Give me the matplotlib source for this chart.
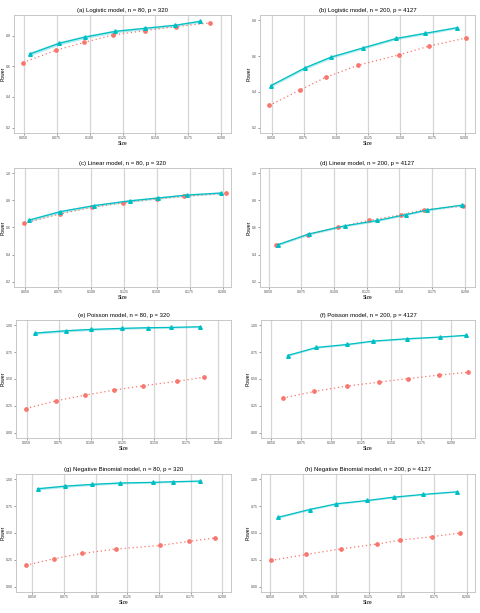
import numpy as np
import matplotlib
matplotlib.use('Agg')
import matplotlib.pyplot as plt

plt.rcParams['font.family'] = ['Liberation Sans', 'DejaVu Sans']

## Datos (Size vs Power)
# (a) Logistic n=80
a_x_teal = [0.0543, 0.0767, 0.0963, 0.1194, 0.1420, 0.1652, 0.1843]
a_y_teal = [0.680, 0.750, 0.791, 0.828, 0.848, 0.868, 0.894]
a_x_red = [0.0495, 0.0747, 0.0958, 0.1174, 0.1420, 0.1657, 0.1917]
a_y_red = [0.625, 0.706, 0.756, 0.804, 0.833, 0.859, 0.883]
a_band = [0.012, 0.011, 0.010, 0.010, 0.009, 0.009, 0.008]

# (b) Logistic n=200
b_x_teal = [0.0495, 0.0759, 0.0960, 0.1211, 0.1470, 0.1689, 0.1940]
b_y_teal = [0.435, 0.534, 0.594, 0.646, 0.699, 0.727, 0.759]
b_x_red = [0.0482, 0.0720, 0.0919, 0.1172, 0.1490, 0.1723, 0.2007]
b_y_red = [0.324, 0.410, 0.481, 0.549, 0.607, 0.656, 0.701]
b_band = [0.008, 0.008, 0.008, 0.007, 0.007, 0.007, 0.006]

# (c) Linear n=80
c_x_teal = [0.0530, 0.0766, 0.1024, 0.1295, 0.1506, 0.1729, 0.1987]
c_y_teal = [0.654, 0.717, 0.762, 0.797, 0.818, 0.840, 0.855]
c_x_red = [0.0492, 0.0766, 0.1007, 0.1245, 0.1498, 0.1708, 0.2025]
c_y_red = [0.632, 0.700, 0.750, 0.783, 0.813, 0.830, 0.853]
c_band = [0.012, 0.011, 0.010, 0.010, 0.009, 0.009, 0.008]

# (d) Linear n=200
d_x_teal = [0.0569, 0.0807, 0.1080, 0.1331, 0.1548, 0.1714, 0.1975]
d_y_teal = [0.472, 0.552, 0.612, 0.652, 0.695, 0.730, 0.765]
d_x_red = [0.0556, 0.0799, 0.1032, 0.1267, 0.1515, 0.1689, 0.1983]
d_y_red = [0.469, 0.547, 0.602, 0.652, 0.695, 0.732, 0.757]
d_band = [0.008, 0.008, 0.008, 0.007, 0.007, 0.007, 0.006]

# (e) Poisson n=80
e_x_teal = [0.0566, 0.0810, 0.1004, 0.1248, 0.1450, 0.1633, 0.1859]
e_y_teal = [0.928, 0.950, 0.962, 0.972, 0.978, 0.981, 0.987]
e_x_red = [0.0495, 0.0731, 0.0959, 0.1187, 0.1413, 0.1675, 0.1890]
e_y_red = [0.225, 0.297, 0.350, 0.397, 0.437, 0.478, 0.516]
e_band = [0.012, 0.011, 0.010, 0.009, 0.008, 0.008, 0.007]

# (f) Poisson n=200
f_x_teal = [0.0637, 0.0877, 0.1134, 0.1346, 0.1631, 0.1905, 0.2120]
f_y_teal = [0.719, 0.794, 0.822, 0.853, 0.875, 0.891, 0.907]
f_x_red = [0.0598, 0.0860, 0.1128, 0.1399, 0.1637, 0.1897, 0.2134]
f_y_red = [0.322, 0.384, 0.434, 0.471, 0.503, 0.537, 0.562]
f_band = [0.009, 0.008, 0.008, 0.007, 0.007, 0.006, 0.006]

# (g) Negative Binomial n=80
g_x_teal = [0.0540, 0.0760, 0.0972, 0.1189, 0.1454, 0.1608, 0.1828]
g_y_teal = [0.912, 0.937, 0.953, 0.966, 0.972, 0.978, 0.984]
g_x_red = [0.0450, 0.0667, 0.0892, 0.1157, 0.1510, 0.1740, 0.1940]
g_y_red = [0.200, 0.259, 0.309, 0.350, 0.384, 0.422, 0.453]
g_band = [0.012, 0.011, 0.010, 0.009, 0.008, 0.008, 0.007]

# (h) Negative Binomial n=200
h_x_teal = [0.0561, 0.0799, 0.1004, 0.1239, 0.1443, 0.1663, 0.1924]
h_y_teal = [0.647, 0.719, 0.772, 0.803, 0.834, 0.859, 0.884]
h_x_red = [0.0505, 0.0773, 0.1042, 0.1316, 0.1494, 0.1739, 0.1949]
h_y_red = [0.244, 0.300, 0.353, 0.397, 0.434, 0.466, 0.500]
h_band = [0.009, 0.008, 0.008, 0.007, 0.007, 0.006, 0.006]

titles = ['(a) Logistic model, n = 80, p = 320', '(b) Logistic model, n = 200, p = 4127',
          '(c) Linear model, n = 80, p = 320', '(d) Linear model, n = 200, p = 4127',
          '(e) Poisson model, n = 80, p = 320', '(f) Poisson model, n = 200, p = 4127',
          '(g) Negative Binomial model, n = 80, p = 320', '(h) Negative Binomial model, n = 200, p = 4127']

x_ticks = [0.050, 0.075, 0.100, 0.125, 0.150, 0.175, 0.200]
y_ticks_ab = [0.2, 0.4, 0.6, 0.8]
y_ticks_cd = [0.2, 0.4, 0.6, 0.8, 1.0]
y_ticks_glm = [0.00, 0.25, 0.50, 0.75, 1.00]

paneles = [
    (a_x_teal, a_y_teal, a_x_red, a_y_red, a_band),
    (b_x_teal, b_y_teal, b_x_red, b_y_red, b_band),
    (c_x_teal, c_y_teal, c_x_red, c_y_red, c_band),
    (d_x_teal, d_y_teal, d_x_red, d_y_red, d_band),
    (e_x_teal, e_y_teal, e_x_red, e_y_red, e_band),
    (f_x_teal, f_y_teal, f_x_red, f_y_red, f_band),
    (g_x_teal, g_y_teal, g_x_red, g_y_red, g_band),
    (h_x_teal, h_y_teal, h_x_red, h_y_red, h_band),
]
yticks = [y_ticks_ab, y_ticks_ab, y_ticks_cd, y_ticks_cd,
          y_ticks_glm, y_ticks_glm, y_ticks_glm, y_ticks_glm]
ylims = [(0.165, 0.935), (0.17, 0.83), (0.16, 1.04), (0.16, 1.04),
         (-0.05, 1.05), (-0.05, 1.05), (-0.05, 1.05), (-0.05, 1.05)]
xlims = [(0.0425, 0.2075), (0.041, 0.208), (0.0416, 0.2063), (0.0434, 0.2077),
         (0.0416, 0.210), (0.0416, 0.2196), (0.037, 0.207), (0.0428, 0.2064)]

TEAL = '#00BFC4'
RED = '#F8766D'
W, H = 480, 613

# posiciones en pixeles (izq, der) por panel y (arriba, abajo) por fila
lefts = [14, 260, 14, 260, 16, 261, 16, 261]
rights = [231, 475, 231, 475, 231, 475, 231, 475]
rows = [(15, 133), (168, 287), (320, 438), (474, 592)]

fig = plt.figure(figsize=(W / 100, H / 100), dpi=100)

for i, (xt, yt, xr, yr, band) in enumerate(paneles):
    l, r = lefts[i], rights[i]
    t, b = rows[i // 2]
    ax = fig.add_axes([l / W, 1 - b / H, (r - l) / W, (b - t) / H])

    yt = np.array(yt); band = np.array(band)
    ax.fill_between(xt, yt - band, yt + band, color=TEAL, alpha=0.3, lw=0, zorder=2)
    ax.plot(xr, yr, color=RED, ls=(0, (1, 2.2)), lw=0.9, marker='o', ms=2.4, zorder=3)
    ax.plot(xt, yt, color=TEAL, ls='-', lw=0.9, marker='^', ms=2.6, zorder=4)

    ax.set_xlim(*xlims[i])
    ax.set_ylim(*ylims[i])
    ax.set_xticks(x_ticks)
    ax.set_xticklabels(['%.3f' % v for v in x_ticks])
    ax.set_yticks(yticks[i])
    if i >= 4:
        ax.set_yticklabels(['%.2f' % v for v in yticks[i]])
    else:
        ax.set_yticklabels(['%.1f' % v for v in yticks[i]])

    ax.grid(True, axis='x', color='#D6D6D6', lw=0.9)
    ax.set_axisbelow(True)
    for s in ax.spines.values():
        s.set_color('#BFBFBF')
        s.set_linewidth(0.6)
    ax.tick_params(labelsize=2.5, length=1.3, width=0.4, color='#4D4D4D',
                   labelcolor='#4D4D4D', pad=0.8)

    ax.set_title(titles[i], fontsize=4.3, pad=2.5)
    ax.set_xlabel('Size', fontsize=3.6, labelpad=0.5)
    ax.set_ylabel('Power', fontsize=3.6, labelpad=0.6)

fig.savefig('out.png', dpi=100)
